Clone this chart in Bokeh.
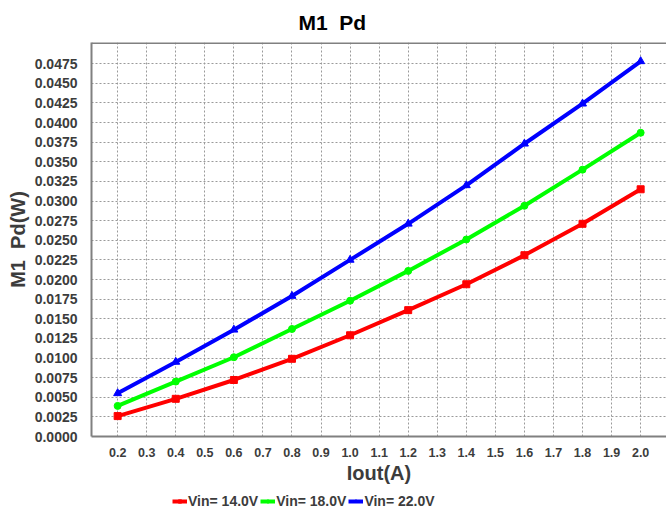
from bokeh.plotting import figure
from bokeh.models import (Range1d, FixedTicker, PrintfTickFormatter, Legend, LegendItem, Span)
from bokeh.layouts import column
from bokeh.embed import file_html
from bokeh.resources import INLINE

iout = [0.2, 0.4, 0.6, 0.8, 1.0, 1.2, 1.4, 1.6, 1.8, 2.0]
vin14 = [0.0026, 0.0048, 0.0072, 0.0099, 0.0129, 0.0161, 0.0194, 0.0231, 0.0271, 0.0315]
vin18 = [0.0039, 0.0070, 0.0101, 0.0137, 0.0173, 0.0211, 0.0251, 0.0294, 0.0340, 0.0387]
vin22 = [0.0055, 0.0095, 0.0136, 0.0179, 0.0225, 0.0271, 0.0320, 0.0373, 0.0424, 0.0478]
series_names = ["Vin= 14.0V", "Vin= 18.0V", "Vin= 22.0V"]
x_ticks = [round(0.2 + 0.1 * i, 1) for i in range(19)]
y_ticks = [round(0.0025 * i, 4) for i in range(20)]

FONT = "Liberation Sans"
LBL = "#3c3c3c"
GRID = "#9a9a9a"
FRAME = "#808080"

p = figure(width=666, height=487, output_backend="svg", toolbar_location=None,
           x_range=Range1d(0.11, 2.089), y_range=Range1d(0.0, 0.0502),
           min_border_left=91, min_border_right=0, min_border_top=0, min_border_bottom=51,
           x_axis_label="Iout(A)", y_axis_label="M1\u00a0\u00a0Pd(W)")
p.outline_line_color = None
p.background_fill_color = "white"

p.title.text = "M1\u00a0\u00a0Pd"
p.title.align = "left"
p.title.offset = 207
p.title.standoff = 17
p.title.text_font = FONT
p.title.text_font_size = "21px"
p.title.text_font_style = "bold"
p.title.text_color = "black"

for ax in (p.xaxis[0], p.yaxis[0]):
    ax.axis_line_color = FRAME
    ax.axis_line_width = 2
    ax.major_tick_line_color = None
    ax.minor_tick_line_color = None
    ax.major_label_text_font = FONT
    ax.major_label_text_font_style = "bold"
    ax.major_label_text_color = LBL
    ax.axis_label_text_font = FONT
    ax.axis_label_text_font_style = "bold"
    ax.axis_label_text_color = LBL
    ax.axis_label_text_font_size = "20px"

p.xaxis.ticker = FixedTicker(ticks=x_ticks)
p.xaxis.formatter = PrintfTickFormatter(format="%.1f")
p.xaxis.major_label_text_font_size = "12.5px"
p.xaxis.major_label_standoff = 5
p.xaxis.axis_label_standoff = 2

p.yaxis.ticker = FixedTicker(ticks=y_ticks)
p.yaxis.formatter = PrintfTickFormatter(format="%.4f")
p.yaxis.major_label_text_font_size = "14px"
p.yaxis.major_label_standoff = 8
p.yaxis.axis_label_standoff = 3

top = Span(location=0.0502, dimension="width", line_color=FRAME, line_width=3)
p.add_layout(top)

for g in (p.xgrid[0], p.ygrid[0]):
    g.grid_line_color = GRID
    g.grid_line_dash = "2 2"
    g.grid_line_width = 1
p.xgrid.ticker = FixedTicker(ticks=x_ticks)
p.ygrid.ticker = FixedTicker(ticks=y_ticks[1:])

colors = ["#ff0000", "#00ff00", "#0000ff"]
markers = ["square", "circle", "triangle"]
sizes = [7, 7, 8]
for ys, c, m, s in zip([vin14, vin18, vin22], colors, markers, sizes):
    p.line(iout, ys, line_color=c, line_width=4)
    p.scatter(iout, ys, marker=m, size=s, fill_color=c, line_color=c)

# legend strip below the chart (series drawn outside its visible range, used only for legend glyphs)
p2 = figure(width=666, height=24, output_backend="svg", toolbar_location=None,
            x_range=Range1d(0.11, 2.089), y_range=Range1d(1.0, 2.0),
            x_axis_type=None, y_axis_type=None,
            min_border_left=0, min_border_right=0, min_border_top=0, min_border_bottom=0)
p2.outline_line_color = None
p2.xgrid.visible = False
p2.ygrid.visible = False
items = []
for ys, c, m, s, name in zip([vin14, vin18, vin22], colors, markers, sizes, series_names):
    r1 = p2.line(iout, ys, line_color=c, line_width=4)
    r2 = p2.scatter(iout, ys, marker=m, size=s, fill_color=c, line_color=c)
    items.append(LegendItem(label=name, renderers=[r1, r2]))

legend = Legend(items=items, orientation="horizontal", location=(81, 2),
                label_text_font=FONT, label_text_font_style="bold",
                label_text_font_size="14px", label_text_color=LBL,
                glyph_width=15, glyph_height=8, label_height=14, label_standoff=1, spacing=2,
                padding=0, margin=0, border_line_color=None, background_fill_alpha=0)
p2.add_layout(legend, "center")

layout = column(p, p2, spacing=0)
open("out.html", "w").write(file_html(layout, INLINE))
